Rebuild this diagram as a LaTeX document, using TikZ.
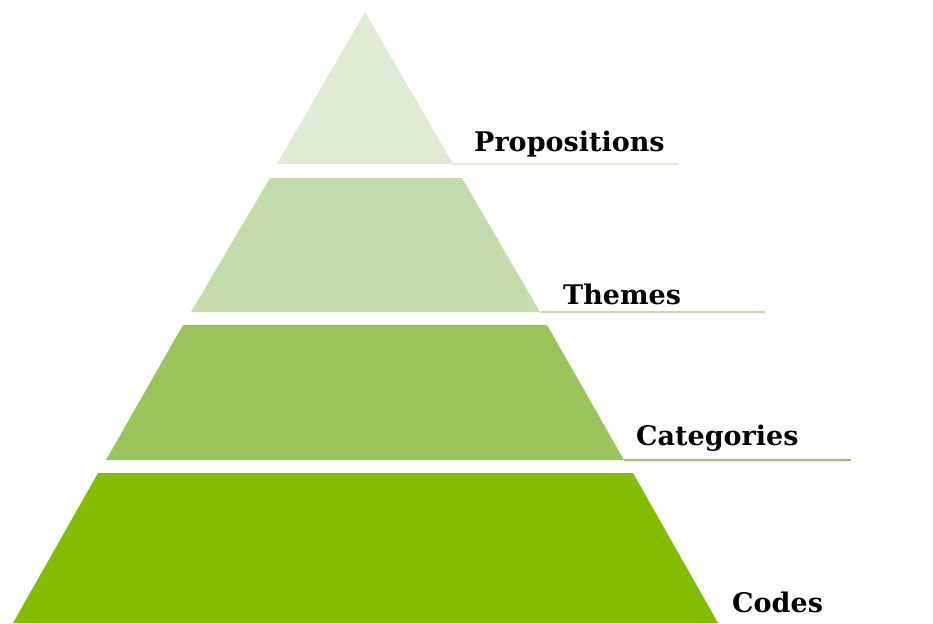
\documentclass[tikz,border=0pt]{standalone}
\usepackage{fontspec}
\setmainfont{DejaVu Serif}
\usetikzlibrary{positioning}

\definecolor{tierA}{HTML}{E0EBD6}
\definecolor{tierB}{HTML}{C4DCAB}
\definecolor{tierC}{HTML}{9BC55A}
\definecolor{tierD}{HTML}{84BC00}

\tikzset{
  tierlabel/.style={anchor=base west,inner sep=0pt,font=\fontsize{27}{31}\selectfont\bfseries},
  tierline/.style={line width=1.4pt}
}

\begin{document}
\begin{tikzpicture}[x=1pt,y=-1pt]
\useasboundingbox (0,0) rectangle (933,623);
									\foreach \tl/\tr/\ty/\bl/\br/\by/\ex/\col/\lbl/\lx/\ly [count=\n] in  
        							{365/365/12/277/453/164/679/tierA/Propositions/474/151,
        							 270/462/178/191/540/312/765/tierB/Themes/563/304,
        							 183/547/325/106/624/460/851/tierC/Categories/636/445,
        							 98/633/473/13/718/623/718/tierD/Codes/732/612}
           							{
           							\fill[\col] (\tl,\ty) -- (\tr,\ty) -- (\br,\by) -- (\bl,\by) -- cycle;
           							\coordinate (B\n) at (\br,\by);
           							\coordinate (E\n) at (\ex,\by);
           							\draw[tierline,\col] (B\n) -- (E\n);
           							\node[tierlabel] (L\n) at (\lx,\ly) {\lbl};
           							}
           						\end{tikzpicture}
\end{document}
